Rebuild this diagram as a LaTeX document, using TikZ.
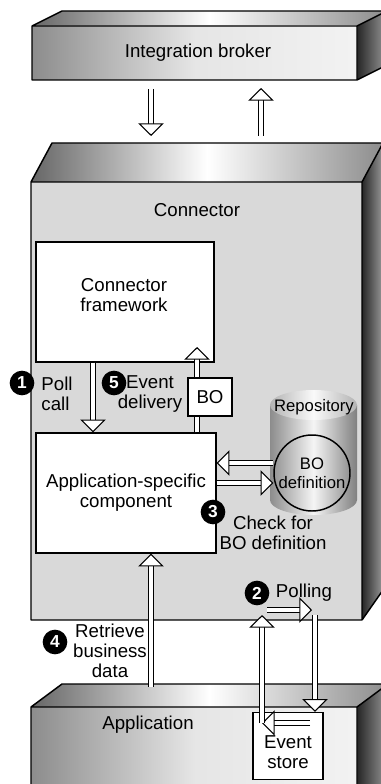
\documentclass[tikz,border=0pt]{standalone}
\usepackage{fontspec}
\setmainfont{Liberation Sans}
\usetikzlibrary{arrows.meta}

\tikzset{
  lbl/.style={font=\fontsize{14}{15}\selectfont, align=center, inner sep=0pt},
  smalllbl/.style={font=\fontsize{12.5}{14}\selectfont, align=center, inner sep=0pt},
  whitebox/.style={draw, fill=white, line width=1.1pt, inner sep=0pt},
  num/.style={circle, fill=black, text=white, inner sep=0pt, minimum size=18.5pt,
    font=\fontsize{13}{13}\selectfont\bfseries},
  flow/.style={double=white, double distance=2.8pt, line width=0.8pt,
    -{Triangle[open, fill=white, length=9.5pt, width=19pt, line width=0.8pt]}},
  pipe/.style={double=white, double distance=2.8pt, line width=0.8pt},
  topface/.style={left color=black!60, right color=black!45, middle color=white},
  sideface/.style={left color=black!85, right color=black!40},
  frontface/.style={left color=black!45, right color=black!5, middle color=black!10},
  edge/.style={line width=1.1pt, line join=round},
}

\begin{document}
\begin{tikzpicture}[x=0.75pt, y=-0.75pt]
  \useasboundingbox (0,0) rectangle (381,784);
  \clip (0,0) rectangle (381,784);

  % integration broker
  \shade[topface] (32,26) -- (62,11) -- (387,11) -- (357,26) -- cycle;
  \shade[sideface] (357,26) -- (387,11) -- (387,65) -- (357,80) -- cycle;
  \shade[frontface] (32,26) rectangle (357,80);
  \draw[edge] (32,26) -- (62,11) -- (387,11) (32,26) rectangle (357,80)
    (357,26) -- (387,11) (357,80) -- (387,65);
  \node[lbl] (broker) at (198,53) {Integration broker};

  % connector
  \shade[topface] (31,182) -- (52,143) -- (383,143) -- (362,182) -- cycle;
  \shade[sideface] (362,182) -- (383,143) -- (383,590) -- (362,620) -- cycle;
  \fill[black!15] (31,182) rectangle (362,620);
  \draw[edge] (31,182) -- (52,143) -- (383,143) (31,182) rectangle (362,620)
    (362,182) -- (383,143) (362,620) -- (383,590);
  \node[lbl] (conn) at (197,210) {Connector};

  % application
  \shade[topface] (31,707) -- (62,684) -- (388,684) -- (357,707) -- cycle;
  \shade[sideface] (357,707) -- (388,684) -- (388,790) -- (357,790) -- cycle;
  \shade[frontface] (31,707) rectangle (357,790);
  \draw[edge] (31,790) -- (31,707) -- (62,684) -- (388,684) (31,707) -- (357,707) -- (357,790)
    (357,707) -- (388,684);
  \node[lbl] (appl) at (148,725) {Application};

  % boxes
  \node[whitebox, minimum width=133.5pt, minimum height=90pt] (fw) at (125,302) {};
  \node[lbl] (fwtext) at (124,295) {Connector\\framework};
  \node[whitebox, minimum width=135pt, minimum height=90pt, lbl] (app) at (126,493)
    {Application-specific\\component};
  \node[whitebox, minimum width=33pt, minimum height=28.5pt, lbl] (bo) at (210,397) {BO};
  \node[whitebox, minimum width=52.5pt, minimum height=50.25pt] (es) at (288,746) {};
  \node[lbl] (estext) at (288,752) {Event\\store};

  % repository
  \shade[left color=black!45, right color=black!50, middle color=black!4]
    (270,405) -- (270,500) arc[start angle=180, end angle=0, x radius=43.5, y radius=15]
    -- (357,405) -- cycle;
  \shade[left color=black!30, right color=black!30, middle color=black!2]
    (313.5,405) ellipse[x radius=43.5, y radius=15];
  \node[smalllbl] (repo) at (314,407) {Repository};
  \node[circle, draw, line width=1.1pt, minimum size=57pt, smalllbl] (bod) at (312,473)
    {BO\\definition};

  % arrows
  \coordinate (dn) at (151,89);
  \coordinate (up) at (261,136);
  \draw[flow] (dn) -- (151,136);
  \draw[flow] (up) -- (261,88);
  \coordinate (pollx) at (93,0);
  \draw[flow] (pollx |- fw.south) -- (pollx |- app.north);
  \coordinate (evtip) at (197,347);
  \draw[pipe] (evtip |- app.north) -- (evtip |- bo.south);
  \draw[flow] (evtip |- bo.north) -- (evtip);
  \coordinate (chk1) at (0,463);
  \coordinate (chk2) at (0,483);
  \draw[flow] (bod.west |- chk1) -- (app.east |- chk1);
  \draw[flow] (app.east |- chk2) -- (bod.west |- chk2);
  \coordinate (pl1) at (267,610);
  \coordinate (pl2) at (312,610);
  \coordinate (pollv) at (315,615);
  \draw[flow] (pl1) -- (pl2);
  \draw[flow] (pollv) -- (pollv |- es.north);
  \coordinate (esin) at (310,723);
  \coordinate (esout) at (262,723);
  \coordinate (upx) at (262,615);
  \draw[flow] (esin) -- (esout);
  \draw[flow] (esout) -- (upx);
  \coordinate (rtv) at (151,687);
  \draw[flow] (rtv) -- (rtv |- app.south);

  % numbers and labels
  \node[num] (n1) at (22,383) {1};
  \node[lbl, align=left] (poll) at (57,394) {Poll\\call};
  \node[num] (n5) at (114,383) {5};
  \node[lbl] (evd) at (150,394) {Event\\delivery};
  \node[num] (n3) at (213,512) {3};
  \node[lbl] (chk) at (273,533) {Check for\\BO definition};
  \node[num] (n2) at (257,593) {2};
  \node[lbl] (polling) at (304,593) {Polling};
  \node[num] (n4) at (55,642) {4};
  \node[lbl] (rtvtext) at (110,651) {Retrieve\\business\\data};
\end{tikzpicture}
\end{document}
